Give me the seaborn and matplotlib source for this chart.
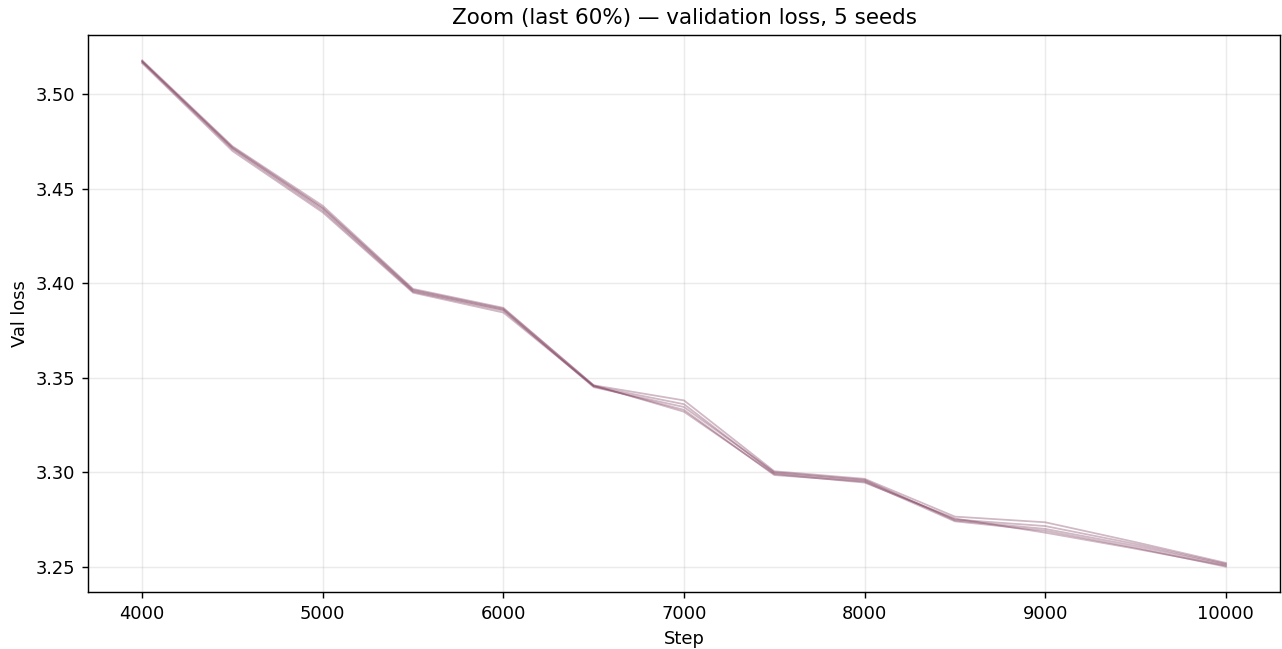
import numpy as np
import pandas as pd
import matplotlib
matplotlib.use("Agg")
import matplotlib.pyplot as plt
import seaborn as sns

steps = [4000, 4500, 5000, 5500, 6000, 6500, 7000, 7500, 8000, 8500, 9000, 9500, 10000]
seed_0 = [3.5180, 3.4725, 3.4410, 3.3970, 3.3870, 3.3460, 3.3380, 3.3005, 3.2965, 3.2765, 3.2735, 3.2630, 3.2520]
seed_1 = [3.5170, 3.4710, 3.4385, 3.3955, 3.3855, 3.3455, 3.3360, 3.2995, 3.2955, 3.2750, 3.2715, 3.2620, 3.2515]
seed_2 = [3.5175, 3.4715, 3.4395, 3.3960, 3.3860, 3.3450, 3.3345, 3.3000, 3.2960, 3.2745, 3.2700, 3.2610, 3.2510]
seed_3 = [3.5165, 3.4700, 3.4375, 3.3950, 3.3845, 3.3455, 3.3330, 3.2985, 3.2950, 3.2740, 3.2690, 3.2600, 3.2500]
seed_4 = [3.5175, 3.4720, 3.4400, 3.3965, 3.3865, 3.3460, 3.3320, 3.2990, 3.2945, 3.2755, 3.2680, 3.2595, 3.2505]
seeds = [seed_0, seed_1, seed_2, seed_3, seed_4]

df = pd.DataFrame({
    "step": np.tile(steps, len(seeds)),
    "loss": np.concatenate(seeds),
    "seed": np.repeat(np.arange(len(seeds)), len(steps)),
})

DPI = 129
fig, ax = plt.subplots(figsize=(1282 / DPI, 649 / DPI), dpi=DPI)
sns.lineplot(data=df, x="step", y="loss", units="seed", estimator=None,
             color="#7a3556", alpha=0.35, lw=1.0, ax=ax)
ax.grid(True, alpha=0.25)
ax.set_xlabel("Step")
ax.set_ylabel("Val loss")
ax.set_title("Zoom (last 60%) — validation loss, 5 seeds")
fig.subplots_adjust(left=88 / 1282, right=1280 / 1282, top=1 - 35 / 649, bottom=1 - 592 / 649)
fig.savefig("out.png", dpi=DPI)
